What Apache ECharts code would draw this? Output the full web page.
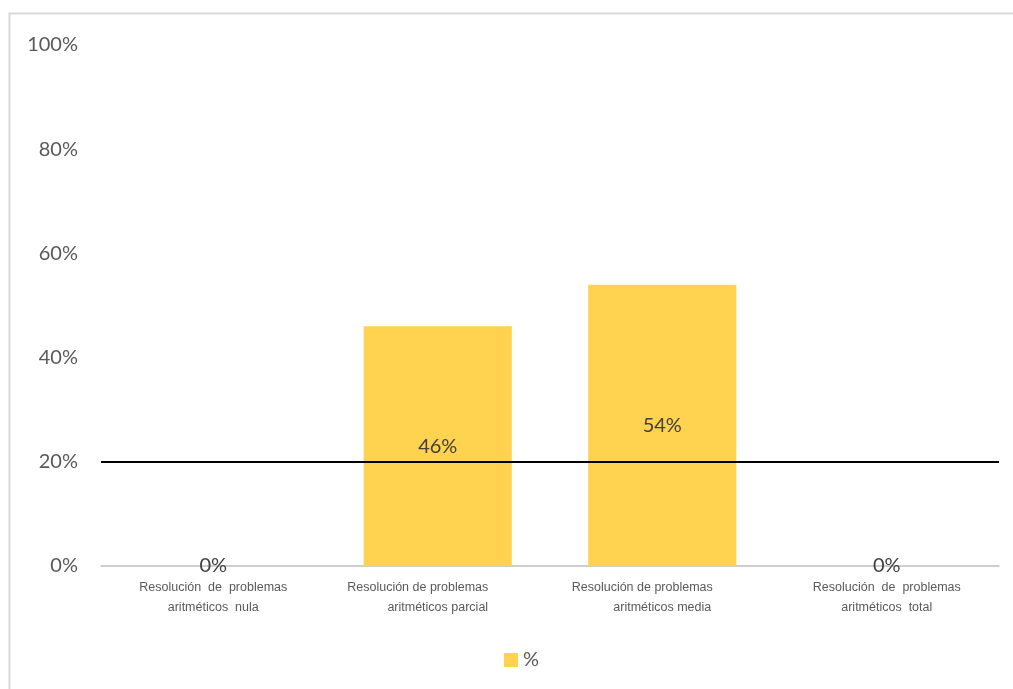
<!DOCTYPE html>
<html>
<head>
<meta charset="utf-8">
<script src="https://cdn.jsdelivr.net/npm/echarts@6/dist/echarts.min.js"></script>
<style>
  html, body { margin: 0; padding: 0; background: #fff; }
  #chart { width: 1013px; height: 689px; }
</style>
</head>
<body>
<div id="chart"></div>
<script>
// Categories and values (percent)
const categories = [
  'Resolución  de  problemas\naritméticos  nula',
  'Resolución de problemas\naritméticos parcial',
  'Resolución de problemas\naritméticos media',
  'Resolución  de  problemas\naritméticos  total'
];
const seriesName = '%';
const values = [0, 46, 54, 0];
const referenceLine = 20;
const yTicks = [0, 20, 40, 60, 80, 100];
// first line of these category labels sits slightly left of centre
const shiftedFirstLine = [false, true, true, false];

const chart = echarts.init(document.getElementById('chart'), null, { renderer: 'canvas' });

const labelFont = '"Liberation Sans Narrow", "Liberation Sans", Arial, sans-serif';

chart.setOption({
  backgroundColor: '#ffffff',
  animation: false,
  graphic: [{
    type: 'rect',
    left: 7, top: 11,
    shape: { width: 1020, height: 700 },
    style: { fill: 'none', stroke: '#d9d9d9', lineWidth: 2 },
    silent: true
  }],
  grid: { left: 101, right: 14, top: 45, bottom: 123 },
  legend: {
    data: [seriesName],
    top: 645,
    left: 499,
    itemWidth: 14,
    itemHeight: 14,
    itemGap: 10,
    icon: 'rect',
    textStyle: { color: '#595959', fontSize: 20, fontFamily: 'Lato' }
  },
  xAxis: {
    type: 'category',
    data: categories,
    axisLine: { show: true, lineStyle: { color: '#bfbfbf', width: 1.5 } },
    axisTick: { show: false },
    axisLabel: {
      color: '#595959',
      fontSize: 12.5,
      fontFamily: labelFont,
      lineHeight: 20,
      margin: 12,
      interval: 0,
      formatter: (v, i) => {
        const lines = v.split('\n');
        const first = shiftedFirstLine[i] ? 'a' : 'c';
        return '{' + first + '|' + lines[0] + '}\n{c|' + lines[1] + '}';
      },
      rich: {
        a: { fontSize: 12.5, fontFamily: labelFont, color: '#595959', lineHeight: 20, padding: [0, 40, 0, 0] },
        c: { fontSize: 12.5, fontFamily: labelFont, color: '#595959', lineHeight: 20 }
      }
    }
  },
  yAxis: {
    type: 'value',
    min: 0,
    max: 100,
    interval: 20,
    splitLine: { show: false },
    axisLine: { show: false },
    axisTick: { show: false },
    axisLabel: {
      color: '#595959',
      fontSize: 20,
      fontFamily: 'Lato',
      margin: 23,
      formatter: v => yTicks.includes(v) ? v + '%' : ''
    }
  },
  series: [{
    name: seriesName,
    type: 'bar',
    data: values,
    barWidth: '66%',
    itemStyle: { color: '#ffd34f' },
    label: {
      show: true,
      position: 'inside',
      color: '#404040',
      fontSize: 20,
      fontFamily: 'Lato',
      formatter: p => p.value + '%'
    },
    markLine: {
      silent: true,
      symbol: 'none',
      label: { show: false },
      lineStyle: { color: '#000000', width: 2, type: 'solid' },
      data: [{ yAxis: referenceLine }]
    }
  }]
});
</script>
</body>
</html>
